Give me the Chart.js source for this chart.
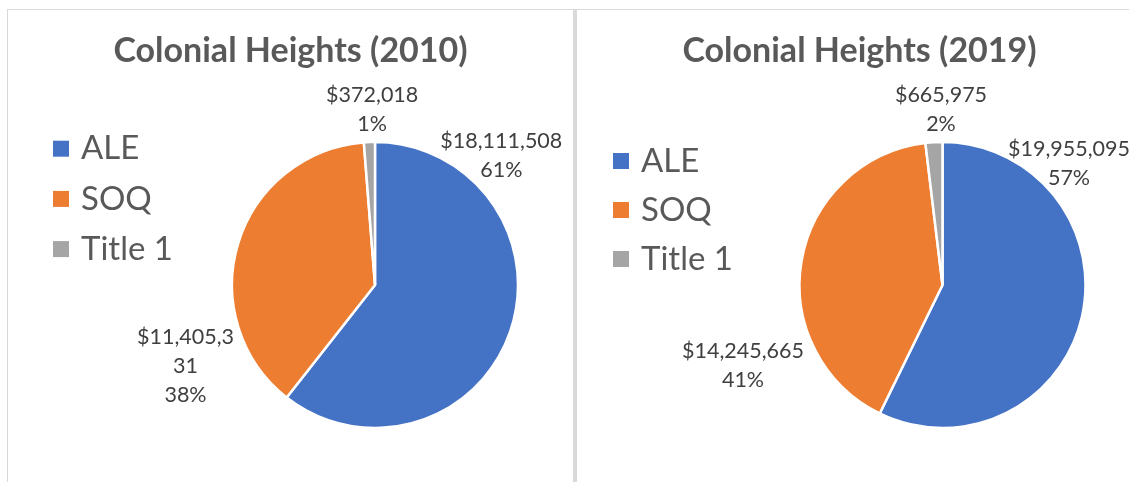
<!DOCTYPE html>
<html>
<head>
<meta charset="utf-8">
<title>Colonial Heights</title>
<script src="https://cdn.jsdelivr.net/npm/chart.js@4.4.0/dist/chart.umd.min.js"></script>
<style>
  body { margin: 0; background: #fff; width: 1129px; height: 482px; overflow: hidden; position: relative; }
  .line { position: absolute; background: #d9d9d9; }
  canvas { position: absolute; top: 10px; }
</style>
</head>
<body>
<div class="line" style="left:7px;top:9px;width:1122px;height:1px"></div>
<div class="line" style="left:7px;top:9px;width:1px;height:473px"></div>
<div class="line" style="left:573px;top:9px;width:4px;height:473px"></div>
<canvas id="chart2010" width="565" height="472" style="left:8px"></canvas>
<canvas id="chart2019" width="565" height="472" style="left:577px"></canvas>
<script>
// data
const categories = ["ALE", "SOQ", "Title 1"];
const values2010 = [18111508, 11405331, 372018];
const values2019 = [19955095, 14245665, 665975];
const colors = ["#4472C4", "#ED7D31", "#A5A5A5"];

Chart.defaults.font.family = "Lato, 'Open Sans', sans-serif";

function money(v) {
    return "$" + String(v).replace(/\B(?=(\d{3})+(?!\d))/g, ",");
}

// title across the whole panel, legend on the left, excel style data labels
const excelLabels = {
    id: "excelLabels",
    afterDraw(chart, args, opts) {
        const ctx = chart.ctx;
        const meta = chart.getDatasetMeta(0);
        const data = chart.data.datasets[0].data;
        const total = data.reduce((a, b) => a + b, 0);

        ctx.save();
        // title
        ctx.font = "bold " + opts.titleSize + "px Lato";
        ctx.textAlign = "center";
        ctx.textBaseline = "alphabetic";
        ctx.fillStyle = "#595959";
        ctx.fillText(opts.title, chart.width / 2, opts.titleY);

        // legend
        const lg = opts.legend;
        ctx.font = lg.size + "px Lato";
        ctx.textAlign = "left";
        ctx.textBaseline = "middle";
        chart.data.labels.forEach((name, i) => {
            const y = lg.y + i * lg.step;
            ctx.fillStyle = colors[i];
            ctx.fillRect(lg.x, y - lg.box / 2, lg.box, lg.box);
            ctx.fillStyle = "#595959";
            ctx.fillText(name, lg.x + lg.box + lg.gap, y);
        });

        // data labels
        ctx.font = opts.size + "px Lato";
        ctx.textAlign = "center";
        ctx.fillStyle = "#404040";
        meta.data.forEach((arc, i) => {
            let txt = money(data[i]);
            let lines = [];
            const w = opts.wrap[i];
            if (w) {
                for (let k = 0; k < txt.length; k += w) lines.push(txt.slice(k, k + w));
            } else {
                lines.push(txt);
            }
            lines.push(Math.round(data[i] / total * 100) + "%");
            const cx = arc.x + opts.offsets[i][0];
            const cy = arc.y + opts.offsets[i][1];
            lines.forEach((t, k) => {
                ctx.fillText(t, cx, cy + (k - (lines.length - 1) / 2) * opts.lineHeight);
            });
        });
        ctx.restore();
    }
};

function makePie(id, title, values, pad, legend, offsets, wrap) {
    return new Chart(document.getElementById(id), {
        type: "pie",
        data: {
            labels: categories,
            datasets: [{
                data: values,
                backgroundColor: colors,
                borderColor: "#ffffff",
                borderWidth: 2.5
            }]
        },
        options: {
            responsive: false,
            animation: false,
            devicePixelRatio: 1,
            radius: 143,
            layout: { padding: pad },
            plugins: {
                legend: { display: false },
                tooltip: { enabled: false },
                title: { display: false },
                excelLabels: {
                    title: title,
                    titleSize: 34,
                    titleY: 51.5,
                    size: 21.5,
                    lineHeight: 29,
                    legend: legend,
                    offsets: offsets,
                    wrap: wrap
                }
            }
        },
        plugins: [excelLabels]
    });
}

makePie("chart2010", "Colonial Heights (2010)", values2010,
    { left: 189, right: 20, top: 80, bottom: 2 },
    { x: 45, y: 138.7, step: 50.2, box: 16, gap: 12, size: 33 },
    [[126.3, -129.75], [-189.5, 81.5], [-2.8, -175.75]],
    [0, 9, 0]);

makePie("chart2019", "Colonial Heights (2019)", values2019,
    { left: 186, right: 20, top: 80, bottom: 2 },
    { x: 36, y: 151, step: 49, box: 16, gap: 12, size: 33 },
    [[126.5, -121.75], [-199.5, 80.5], [-1.5, -175.25]],
    [0, 0, 0]);
</script>
</body>
</html>
